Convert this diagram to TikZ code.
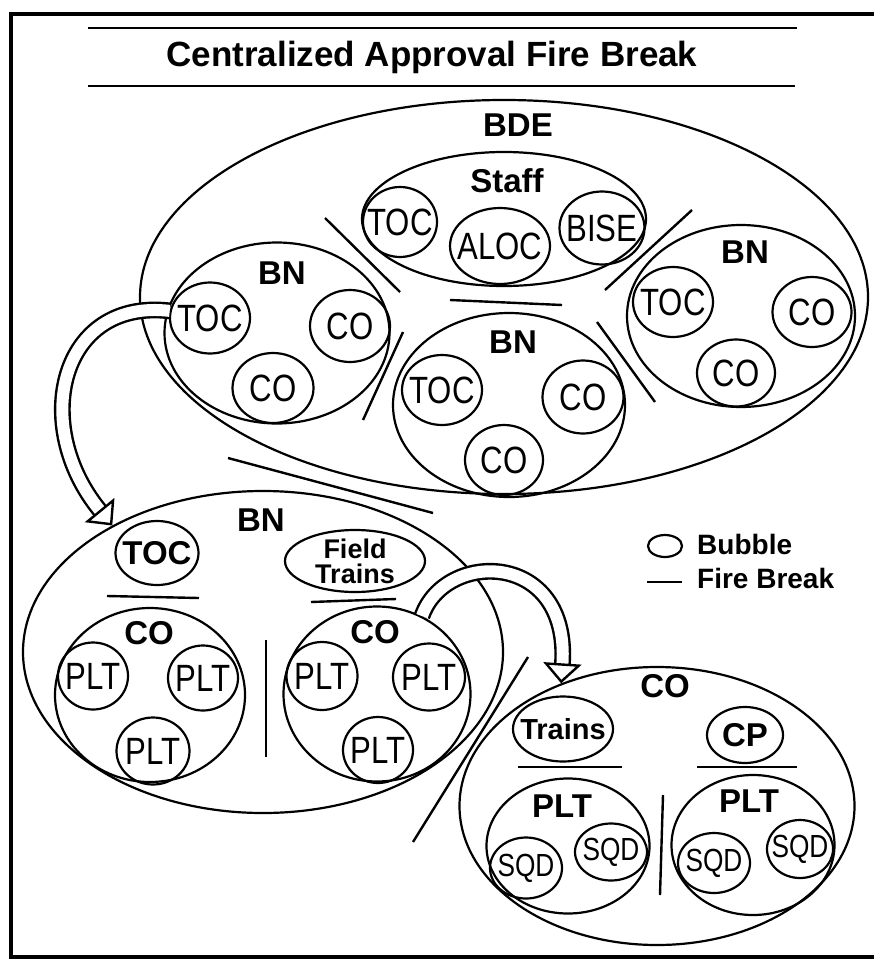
\documentclass[tikz,border=0pt]{standalone}
\usepackage{fontspec}
\setmainfont{Liberation Sans}
\newfontfamily\narrowsf[FakeStretch=0.82]{Liberation Sans}
\usetikzlibrary{arrows.meta,shapes.geometric}

\newcommand{\bubfont}{\narrowsf\fontsize{38}{40}\selectfont}
\newcommand{\sqdfont}{\narrowsf\fontsize{32}{34}\selectfont}
\newcommand{\unitfont}{\bfseries\fontsize{33}{35}\selectfont}
\newcommand{\boldbub}{\bfseries\fontsize{33}{35}\selectfont}
\newcommand{\bt}[1]{\makebox[0pt]{#1}}

\tikzset{
  bub/.style 2 args={ellipse, draw, line width=2.2pt, inner sep=0pt,
    minimum width=#1, minimum height=#2, font=\bubfont},
  unit/.style={font=\unitfont, inner sep=0pt},
  brk/.style={line width=2.4pt},
  hollow/.style={double, double distance=12pt, line width=2.4pt,
    -{Triangle[open, length=20pt, width=38pt, line width=2.4pt 0 0]}},
}

\begin{document}
\begin{tikzpicture}[x=1pt, y=-1pt]
\useasboundingbox (0,0) rectangle (874,963);

% frame and title
\draw[line width=4.5pt] (880,14) -- (11,14) -- (11,957) -- (880,957);
\draw[line width=2.2pt] (88,28) -- (797,28);
\draw[line width=2.2pt] (88,86) -- (795,86);
\node[font=\bfseries\fontsize{35}{37}\selectfont] (title) at (432,57) {Centralized Approval Fire Break};

% BDE
\node[bub={728}{394}] (bde) at (504,297) {};
\node[unit] (bdeLbl) at (518,125) {BDE};

\node[bub={284}{134}] (staff) at (504,219) {};
\node[unit] (staffLbl) at (507,181) {Staff};
\node[bub={74}{70}] (staffToc) at (400,222) {\bt{TOC}};
\node[bub={100}{76}] (staffAloc) at (500,246) {\bt{ALOC}};
\node[bub={85}{73}] (staffBise) at (602,228) {\bt{BISE}};

\node[bub={225}{181}] (bnL) at (277,333) {};
\node[unit] (bnLLbl) at (282,273) {BN};
\node[bub={80}{71}] (bnLtoc) at (210,318) {\bt{TOC}};
\node[bub={80}{72}] (bnLco1) at (350,326) {\bt{CO}};
\node[bub={81}{70}] (bnLco2) at (273,388) {\bt{CO}};

\node[bub={232}{184}] (bnM) at (509,405) {};
\node[unit] (bnMLbl) at (513,342) {BN};
\node[bub={80}{70}] (bnMtoc) at (442,390) {\bt{TOC}};
\node[bub={81}{73}] (bnMco1) at (583,397) {\bt{CO}};
\node[bub={78}{70}] (bnMco2) at (504,460) {\bt{CO}};

\node[bub={228}{182}] (bnR) at (741,316) {};
\node[unit] (bnRLbl) at (745,252) {BN};
\node[bub={80}{70}] (bnRtoc) at (673,302) {\bt{TOC}};
\node[bub={79}{70}] (bnRco1) at (812,312) {\bt{CO}};
\node[bub={78}{67}] (bnRco2) at (736,373) {\bt{CO}};

% fire breaks inside BDE
\draw[brk] (325,218) -- (400,292);
\draw[brk] (692,210) -- (605,290);
\draw[brk] (450,300) -- (562,305);
\draw[brk] (403,332) -- (363,420);
\draw[brk] (597,322) -- (655,402);
\draw[brk] (228,458) -- (433,513);

% lower BN
\node[bub={480}{322}] (bnLow) at (263,652) {};
\node[unit] (bnLowLbl) at (261,520) {BN};
\node[bub={83}{64}, font=\boldbub] (bnLowToc) at (157,553) {\bt{TOC}};
\node[bub={140}{62}, label={[font=\bfseries\fontsize{27}{25}\selectfont, align=center]center:Field\\Trains}] (bnLowFt) at (355,561) {};
\draw[brk] (107,596) -- (199,598);
\draw[brk] (311,602) -- (396,599);
\draw[brk] (266,640) -- (266,757);

\node[bub={190}{174}] (bnLowCo1) at (150,695) {};
\node[unit] (co1Lbl) at (149,633) {CO};
\node[bub={70}{67}] (co1plt1) at (93,676) {\bt{PLT}};
\node[bub={70}{65}] (co1plt2) at (203,678) {\bt{PLT}};
\node[bub={73}{67}] (co1plt3) at (153,751) {\bt{PLT}};

\node[bub={187}{175}] (bnLowCo2) at (377,694) {};
\node[unit] (co2Lbl) at (375,632) {CO};
\node[bub={71}{68}] (co2plt1) at (322,676) {\bt{PLT}};
\node[bub={72}{67}] (co2plt2) at (429,677) {\bt{PLT}};
\node[bub={70}{66}] (co2plt3) at (378,750) {\bt{PLT}};

\draw[brk] (528,657) -- (413,842);

% lower right CO
\node[bub={395}{278}] (coLR) at (657,806) {};
\node[unit] (coLRLbl) at (665,686) {CO};
\node[bub={100}{65}, font=\bfseries\fontsize{29}{31}\selectfont] (coTrains) at (563,729) {\bt{Trains}};
\node[bub={76}{56}, font=\boldbub] (coCp) at (745,735) {\bt{CP}};
\draw[brk] (518,767) -- (622,767);
\draw[brk] (697,767) -- (797,767);
\draw[brk] (663,795) -- (660,895);

\node[bub={163}{135}] (pltL) at (568,846) {};
\node[unit] (pltLLbl) at (562,806) {PLT};
\node[bub={72}{61}, font=\sqdfont] (pltLsqd1) at (526,868) {\bt{SQD}};
\node[bub={72}{57}, font=\sqdfont] (pltLsqd2) at (611,852) {\bt{SQD}};

\node[bub={163}{140}] (pltR) at (753,845) {};
\node[unit] (pltRLbl) at (749,801) {PLT};
\node[bub={72}{60}, font=\sqdfont] (pltRsqd1) at (714,863) {\bt{SQD}};
\node[bub={66}{58}, font=\sqdfont] (pltRsqd2) at (800,849) {\bt{SQD}};

% legend
\node[bub={34}{22}] (keyBub) at (665,546) {};
\node[anchor=west, font=\bfseries\fontsize{28}{30}\selectfont, inner sep=0pt] (keyBubLbl) at (697,544) {Bubble};
\coordinate (keyA) at (647,582);
\coordinate (keyB) at (682,582);
\draw[brk] (keyA) -- (keyB);
\node[anchor=west, font=\bfseries\fontsize{28}{30}\selectfont, inner sep=0pt] (keyBrkLbl) at (697,578) {Fire Break};

% drill-down arrows
\draw[hollow] (bnLtoc.170) .. controls (60,298) and (30,425) .. (bnLow.140);
\draw[hollow] (bnLowCo2.60) .. controls (445,550) and (570,550) .. (coLR.128);

\end{tikzpicture}
\end{document}
